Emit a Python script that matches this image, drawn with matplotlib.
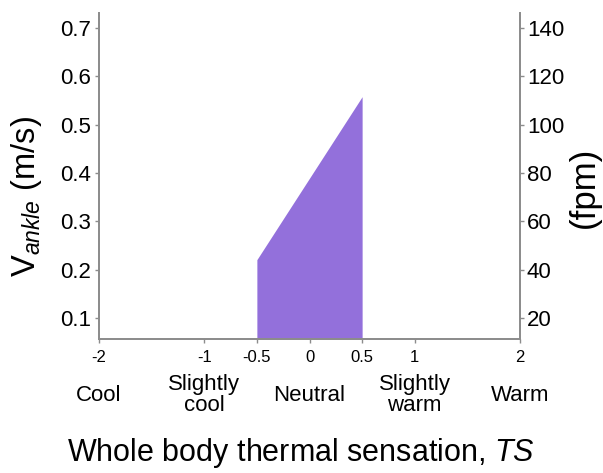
import matplotlib
matplotlib.use("Agg")
import matplotlib.pyplot as plt

plt.rcParams['font.family'] = ['Liberation Sans', 'DejaVu Sans']
plt.rcParams['mathtext.fontset'] = 'custom'
plt.rcParams['mathtext.rm'] = 'Liberation Sans'
plt.rcParams['mathtext.it'] = 'Liberation Sans:italic'

# Data
ts_range = [-0.5, 0.5]            # TS at left/right edges of region
v_upper = [0.221, 0.558]          # upper V_ankle limit (m/s) at those TS
x_ticks = [-2, -1, -0.5, 0, 0.5, 1, 2]
x_tick_labels = ['-2', '-1', '-0.5', '0', '0.5', '1', '2']
cat_pos = [-2, -1, 0, 1, 2]
cat_labels = ['Cool', 'Slightly\ncool', 'Neutral', 'Slightly\nwarm', 'Warm']
y_ticks = [0.1, 0.2, 0.3, 0.4, 0.5, 0.6, 0.7]
y2_ticks = [20, 40, 60, 80, 100, 120, 140]
ylim = (0.057, 0.731)
fpm_per_ms = 200

fig = plt.figure(figsize=(6.03, 4.73), dpi=100)
ax = fig.add_axes([99/603, 1-339/473, (520-99)/603, (339-13)/473])

ax.fill_between(ts_range, [ylim[0], ylim[0]], v_upper, color='#9370DB', lw=0)

ax.set_xlim(-2, 2)
ax.set_ylim(*ylim)
spine_c = '#8c8c8c'
for s in ['left', 'bottom', 'right']:
    ax.spines[s].set_color(spine_c)
    ax.spines[s].set_linewidth(1.3)
ax.spines['top'].set_visible(False)

ax.set_xticks(x_ticks)
ax.set_xticklabels(x_tick_labels, fontsize=12)
ax.set_yticks(y_ticks)
ax.set_yticklabels([f'{v:.1f}' for v in y_ticks], fontsize=16)
ax.tick_params(axis='both', direction='out', length=3, width=1, color=spine_c, pad=3)
ax.tick_params(axis='x', pad=5)

ax2 = ax.twinx()
ax2.set_ylim(ylim[0]*fpm_per_ms, ylim[1]*fpm_per_ms)
ax2.set_yticks(y2_ticks)
ax2.set_yticklabels([str(v) for v in y2_ticks], fontsize=16)
ax2.tick_params(axis='y', direction='out', length=3, width=1, color=spine_c, pad=2)
for s in ['left', 'bottom', 'right']:
    ax2.spines[s].set_color(spine_c)
    ax2.spines[s].set_linewidth(1.3)
ax2.spines['top'].set_visible(False)

trans = ax.get_xaxis_transform()
for p, lab in zip(cat_pos, cat_labels):
    ax.text(p, -0.172, lab, transform=trans, ha='center', va='center',
            fontsize=16, linespacing=1.0)

fig.text(301/603, 1-453/473, r'Whole body thermal sensation, $\mathit{TS}$',
         ha='center', va='center', fontsize=22)
fig.text(27/603, 1-197/473, r'$\mathrm{V}_{\mathit{ankle}}$ (m/s)', rotation=90,
         ha='center', va='center', fontsize=23.5)
fig.text(584/603, 1-187/473, '(fpm)', rotation=90, ha='center', va='center',
         fontsize=25)

fig.savefig('out.png', dpi=100)
